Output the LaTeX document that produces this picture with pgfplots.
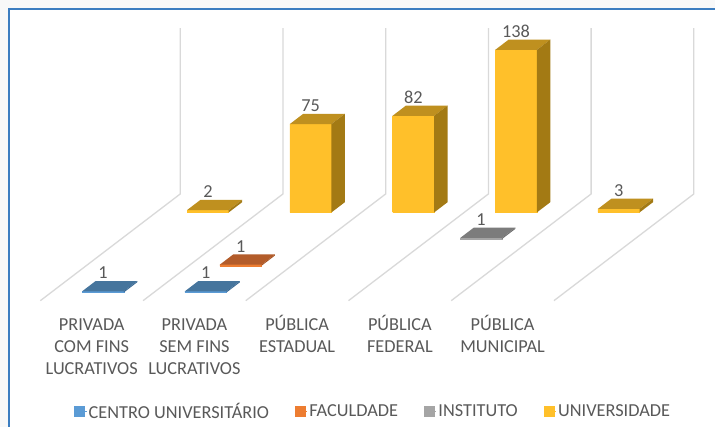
\documentclass[border=0pt]{standalone}
\usepackage{pgfplots}
\pgfplotsset{compat=1.18}
\usepackage{fontspec}
\setmainfont{Carlito}
\definecolor{txt}{HTML}{595959}
\definecolor{wall}{HTML}{D9D9D9}
\definecolor{frameA}{HTML}{3C7DC0}
\definecolor{bgout}{HTML}{F8F8F8}
\definecolor{bF}{HTML}{5B9BD5}\definecolor{bT}{HTML}{46759D}\definecolor{bS}{HTML}{3A6A95}
\definecolor{oF}{HTML}{ED7D31}\definecolor{oT}{HTML}{B35C2A}\definecolor{oS}{HTML}{A85423}
\definecolor{gF}{HTML}{A5A5A5}\definecolor{gT}{HTML}{7C7C7C}\definecolor{gS}{HTML}{6E6E6E}
\definecolor{uF}{HTML}{FFC02A}\definecolor{uT}{HTML}{BF901F}\definecolor{uS}{HTML}{A37A14}
% args: category, series depth, value, front, top, side colours
\newcommand\tdbar[6]{%
  \pgfmathsetmacro\xa{#1-0.1977}\pgfmathsetmacro\xb{#1+0.2077}%
  \pgfmathsetmacro\ya{#2-0.1925}\pgfmathsetmacro\yb{#2+0.1925}%
  \addplot3[forget plot,no marks,fill=#4,draw=#4,line width=0.5pt] coordinates {(\xa,\ya,0)(\xb,\ya,0)(\xb,\ya,#3)(\xa,\ya,#3)(\xa,\ya,0)};
  \addplot3[forget plot,no marks,fill=#5,draw=none] coordinates {(\xa,\ya,#3)(\xb,\ya,#3)(\xb,\yb,#3)(\xa,\yb,#3)(\xa,\ya,#3)};
  \addplot3[forget plot,no marks,fill=#6,draw=none] coordinates {(\xb,\ya,0)(\xb,\yb,0)(\xb,\yb,#3)(\xb,\ya,#3)(\xb,\ya,0)};
  \node[text=txt,font=\fontsize{18.3}{20}\selectfont,anchor=center,yshift=18.5pt] at (axis cs:#1+0.005,#2-0.1925,#3) {#3};
}
\newcommand\catlabel[2]{%
  \node[align=center,anchor=north,text=txt,font=\fontsize{18.3}{22}\selectfont,yshift=-11pt] at (axis cs:#1,-0.5,0) {\vphantom{Ú}#2};
}
\begin{document}
\begin{tikzpicture}
\begin{axis}[
  x={(102.8pt,0pt)}, y={(35pt,26.7pt)}, z={(0pt,1.179pt)},
  xmin=-0.5,xmax=4.5,ymin=-0.5,ymax=3.5,zmin=0,zmax=140.8,
  clip=false,
  axis line style={draw=none},
  tick style={draw=none},
  grid=none,
  xtick=\empty,ytick=\empty,ztick=\empty,
  legend columns=4,
  legend style={at={(axis cs:2.57,0,-105.5)},anchor=center,draw=none,fill=none,
    font=\fontsize{18.3}{20}\selectfont,text=txt,
    /tikz/every even column/.append style={column sep=24pt}},
  legend image code/.code={\path (0pt,0pt) -- (12pt,0pt);\fill[#1] (0pt,-5pt) rectangle (10pt,5pt);},
]
\path[fill=bgout] (axis cs:-1.0632,0,-118.28) rectangle (axis cs:5.9016,0,243.9);
\path[fill=white] (axis cs:-0.9757,0,-118.28) rectangle (axis cs:5.9016,0,236.26);
\draw[frameA,line width=1.2pt] (axis cs:-0.9757,0,-118.28) -- (axis cs:-0.9757,0,236.26) -- (axis cs:5.9016,0,236.26);
\pgfplotsinvokeforeach{-0.5,0.5,1.5,2.5,3.5,4.5}{
  \addplot3[forget plot,no marks,wall,line width=1.3pt] coordinates {(#1,-0.5,0)(#1,3.5,0)(#1,3.5,140.8)};
}
\tdbar{0}{0}{1}{bF}{bT}{bS}
\tdbar{1}{0}{1}{bF}{bT}{bS}
\tdbar{1}{1}{1}{oF}{oT}{oS}
\tdbar{3}{2}{1}{gF}{gT}{gS}
\tdbar{0}{3}{2}{uF}{uT}{uS}
\tdbar{1}{3}{75}{uF}{uT}{uS}
\tdbar{2}{3}{82}{uF}{uT}{uS}
\tdbar{3}{3}{138}{uF}{uT}{uS}
\tdbar{4}{3}{3}{uF}{uT}{uS}
\catlabel{0}{PRIVADA\\COM FINS\\LUCRATIVOS}
\catlabel{1}{PRIVADA\\SEM FINS\\LUCRATIVOS}
\catlabel{2}{PÚBLICA\\ESTADUAL}
\catlabel{3}{PÚBLICA\\FEDERAL}
\catlabel{4}{PÚBLICA\\MUNICIPAL}
\addlegendimage{bF}\addlegendentry{CENTRO UNIVERSITÁRIO}
\addlegendimage{oF}\addlegendentry{FACULDADE}
\addlegendimage{gF}\addlegendentry{INSTITUTO}
\addlegendimage{uF}\addlegendentry{UNIVERSIDADE}
\end{axis}
\end{tikzpicture}
\end{document}
